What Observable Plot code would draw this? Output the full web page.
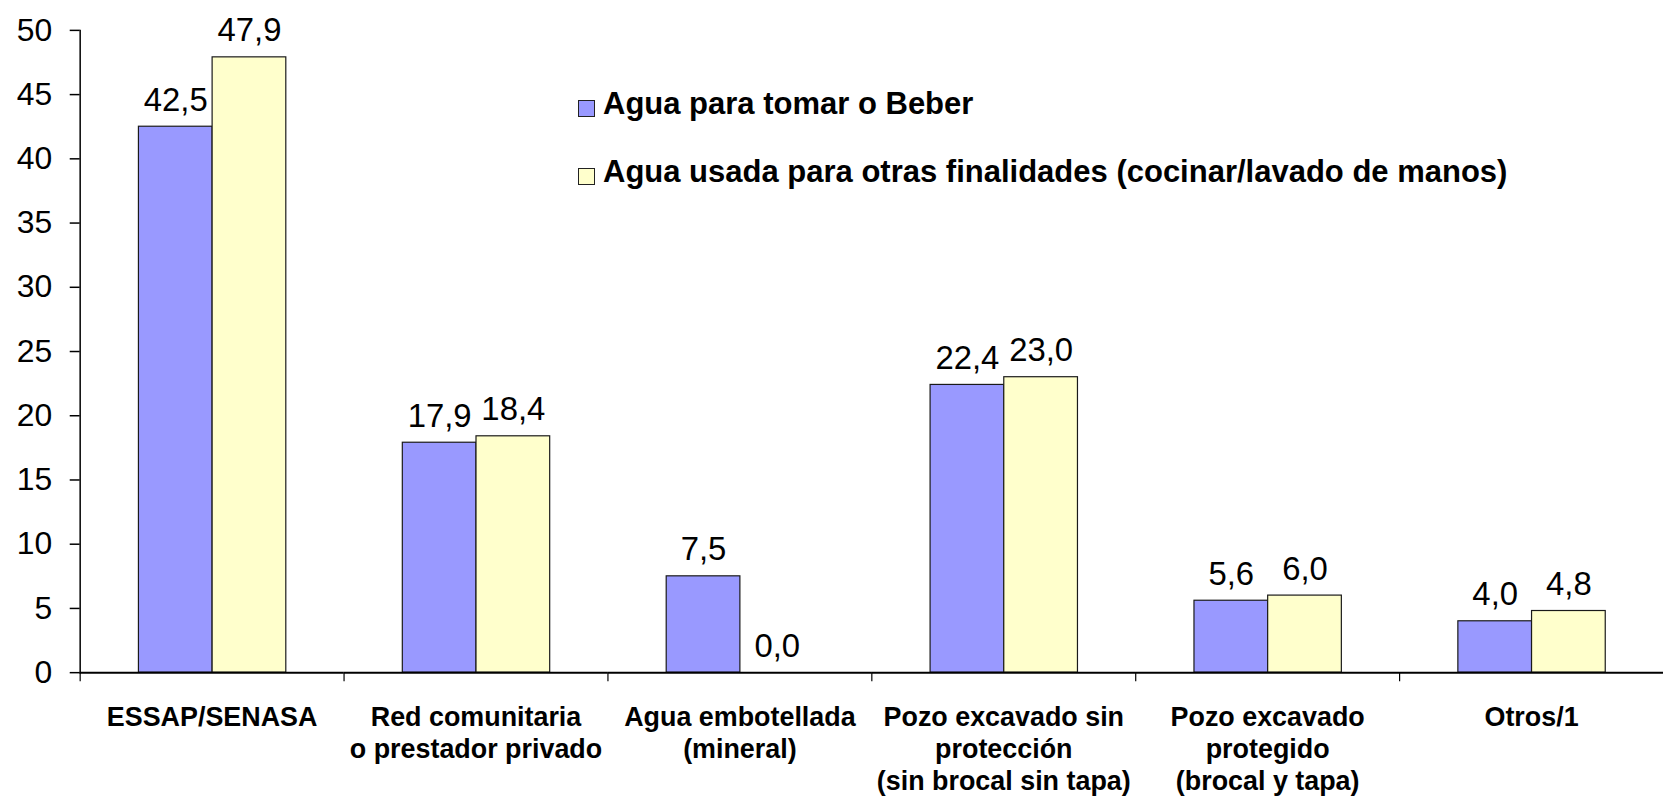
<!DOCTYPE html>
<html>
<head>
<meta charset="utf-8">
<script src="https://cdn.jsdelivr.net/npm/d3@7"></script>
<script src="https://cdn.jsdelivr.net/npm/@observablehq/plot@0.6"></script>
<style>
  html, body { margin: 0; padding: 0; background: #fff; overflow: hidden; }
  #wrap { position: relative; width: 1663px; height: 800px; font-family: "Liberation Sans", Arial, sans-serif; }
  #legend { position: absolute; left: 578px; top: 89px; font-weight: bold; font-size: 31px; line-height: 30px; color: #000; }
  #legend .item { display: flex; align-items: center; height: 30px; margin-bottom: 38px; white-space: nowrap; }
  #legend .sw { width: 15px; height: 15px; border: 1px solid #222; margin-right: 8px; margin-top: 8px; flex: none; }
</style>
</head>
<body>
<div id="wrap"><div id="chart"></div><div id="legend"></div></div>
<script>
const categories = [
  "ESSAP/SENASA",
  "Red comunitaria\no prestador privado",
  "Agua embotellada\n(mineral)",
  "Pozo excavado sin\nprotección\n(sin brocal sin tapa)",
  "Pozo excavado\nprotegido\n(brocal y tapa)",
  "Otros/1"
];
const series = [
  "Agua para tomar o Beber",
  "Agua usada para otras finalidades (cocinar/lavado de manos)"
];
const drinkValues = [42.5, 17.9, 7.5, 22.4, 5.6, 4.0];
const otherValues = [47.9, 18.4, 0.0, 23.0, 6.0, 4.8];
const colors = ["#9999FF", "#FFFFCC"];
const yTicks = [0, 5, 10, 15, 20, 25, 30, 35, 40, 45, 50];

const data = [];
categories.forEach((c, i) => {
  data.push({category: c, series: series[0], value: drinkValues[i]});
  data.push({category: c, series: series[1], value: otherValues[i]});
});
const fmt = v => d3.format(".1f")(v).replace(".", ",");

const chart = Plot.plot({
  width: 1670,
  height: 800,
  marginLeft: 80,
  marginRight: 0,
  marginTop: 30,
  marginBottom: 125,
  style: {fontFamily: "'Liberation Sans', Arial, sans-serif", background: "white", color: "black"},
  fx: {domain: categories, padding: 0, label: null},
  x: {domain: series, paddingInner: 0, paddingOuter: 0.7667, axis: null},
  y: {domain: [0, 50], label: null},
  color: {domain: series, range: colors},
  marks: [
    Plot.barY(data, {fx: "category", x: "series", y: "value", fill: "series", stroke: "#1a1a1a", strokeWidth: 1.2}),
    Plot.text(data, {fx: "category", x: "series", y: "value", text: d => fmt(d.value), dy: -16, lineAnchor: "bottom", fontSize: 33, fill: "black"}),
    Plot.ruleY([0], {stroke: "black", strokeWidth: 2}),
    Plot.frame({anchor: "left", facetAnchor: "left", stroke: "black", strokeWidth: 1.5}),
    Plot.frame({anchor: "left", insetTop: 645, insetBottom: -8, stroke: "black", strokeWidth: 1.2}),
    Plot.axisY({ticks: yTicks, tickSize: 10, tickPadding: 18, fontSize: 32, label: null, strokeWidth: 1.5}),
    Plot.axisFx({anchor: "bottom", tickSize: 0, tickPadding: 31, fontSize: 27, fontWeight: "bold", lineHeight: 1.18, label: null})
  ]
});
document.getElementById("chart").appendChild(chart);

const legend = document.getElementById("legend");
series.forEach((s, i) => {
  const item = document.createElement("div");
  item.className = "item";
  const sw = document.createElement("span");
  sw.className = "sw";
  sw.style.background = colors[i];
  item.appendChild(sw);
  item.appendChild(document.createTextNode(s));
  legend.appendChild(item);
});
</script>
</body>
</html>
